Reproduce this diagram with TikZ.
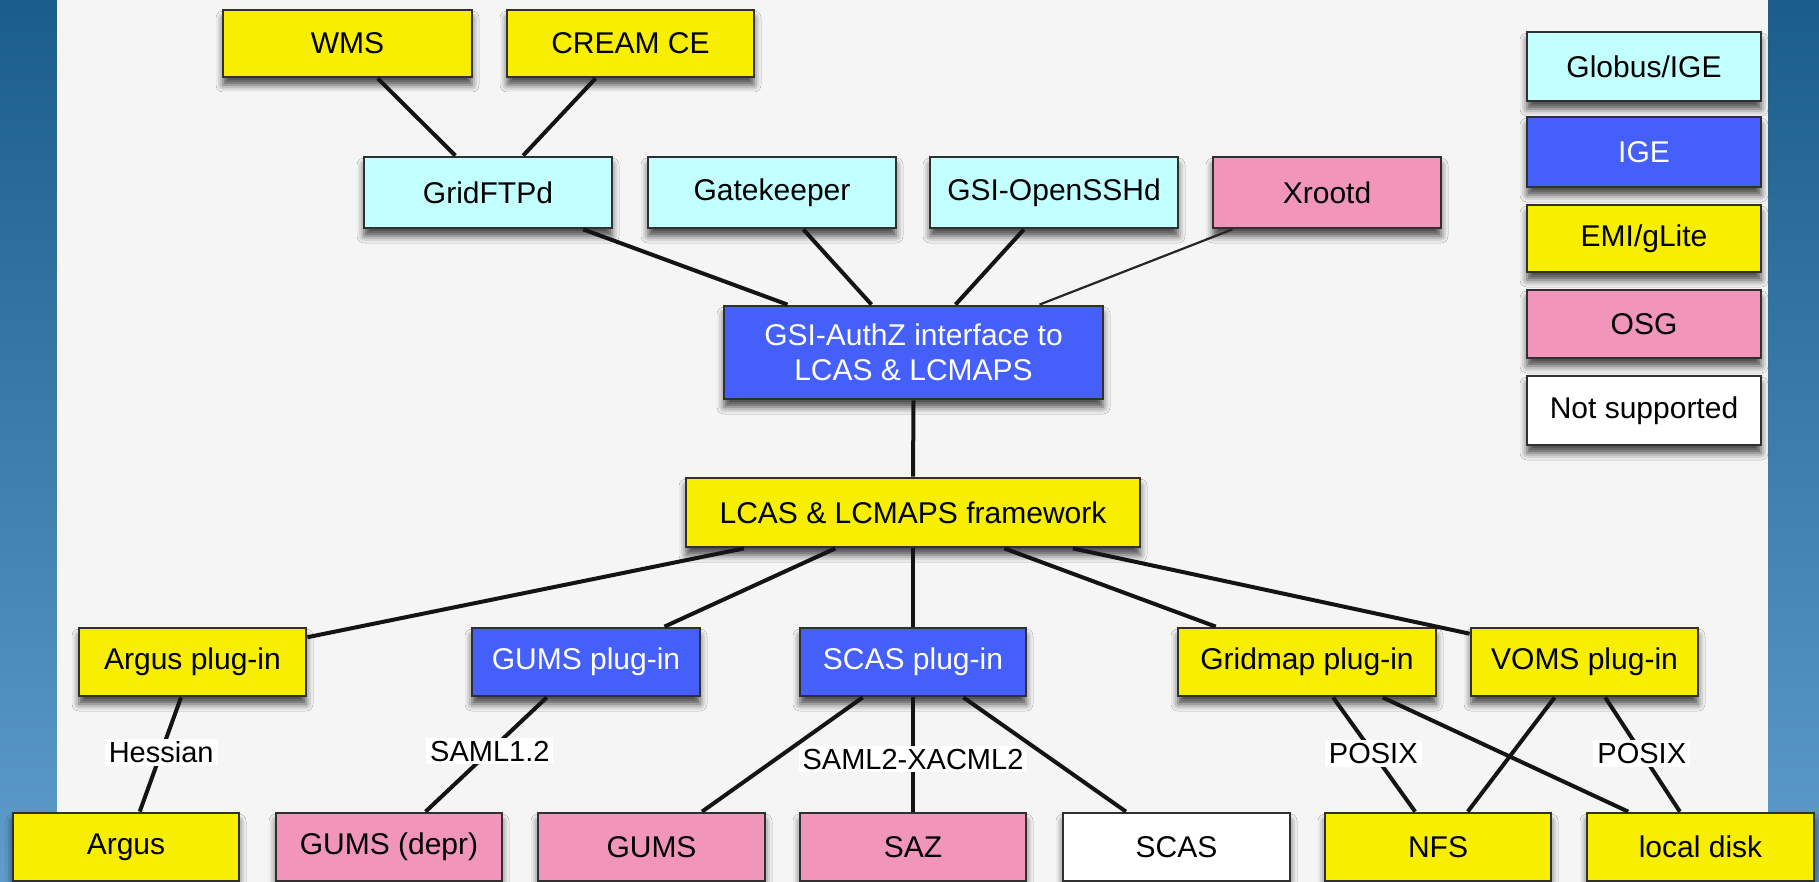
\documentclass[tikz,border=0pt]{standalone}
\usepackage{fontspec}
\setmainfont{Liberation Sans}
\usetikzlibrary{calc,shadows.blur}
\definecolor{bgblueA}{HTML}{1A5C8A}
\definecolor{bgblueB}{HTML}{5E9DCB}
\definecolor{panel}{HTML}{F5F5F5}
\definecolor{cyanbox}{HTML}{C2FFFF}
\definecolor{bluebox}{HTML}{4560FA}
\definecolor{yellowbox}{HTML}{F7EE00}
\definecolor{pinkbox}{HTML}{F195BB}
\definecolor{edgecol}{HTML}{303030}
\begin{document}
\begin{tikzpicture}[x=1pt,y=-1pt,
  box/.style={draw=edgecol,line width=2.8pt,inner sep=0pt,minimum height=68pt,
    font=\fontsize{30}{35}\selectfont,align=center,
    blur shadow={shadow xshift=0pt,shadow yshift=-8pt,shadow blur radius=7pt,shadow opacity=70}},
  cy/.style={box,fill=cyanbox},
  bl/.style={box,fill=bluebox,text=white},
  ye/.style={box,fill=yellowbox},
  pk/.style={box,fill=pinkbox},
  wh/.style={box,fill=white},
  link/.style={draw=black!92,line width=4pt},
  thinlink/.style={draw=black!85,line width=2.2pt},
  elabel/.style={fill=white,inner xsep=4pt,inner ysep=3pt,font=\fontsize{29}{33}\selectfont}]
\useasboundingbox (0,0) rectangle (1819,882);
\shade[top color=bgblueA,bottom color=bgblueB] (0,0) rectangle (1819,882);
\fill[panel] (57,0) rectangle (1768,882);

% top
\node[ye,minimum width=249pt,minimum height=67pt] (wms) at (347.5,43.5) {WMS};
\node[ye,minimum width=247pt,minimum height=67pt] (cream) at (630.5,43.5) {CREAM CE};
% second row
\node[cy,minimum width=248pt,minimum height=71pt] (gridftp) at (488,192.5) {GridFTPd};
\node[cy,minimum width=248pt,minimum height=71pt] (gatek) at (772,192.5) {Gatekeeper};
\node[cy,minimum width=248pt,minimum height=71pt] (gsissh) at (1054,192.5) {GSI-OpenSSHd};
\node[pk,minimum width=228pt,minimum height=71pt] (xrootd) at (1327,192.5) {Xrootd};
% middle
\node[bl,minimum width=379pt,minimum height=93pt] (authz) at (913.5,352.5) {GSI-AuthZ interface to\\LCAS \& LCMAPS};
\node[ye,minimum width=454pt,minimum height=69pt] (lcas) at (913,512.5) {LCAS \& LCMAPS framework};
% plug-ins
\node[ye,minimum width=227pt] (argusp) at (192.5,662) {Argus plug-in};
\node[bl,minimum width=228pt] (gumsp) at (586,662) {GUMS plug-in};
\node[bl,minimum width=226pt] (scasp) at (913,662) {SCAS plug-in};
\node[ye,minimum width=258pt] (gridmapp) at (1307,662) {Gridmap plug-in};
\node[ye,minimum width=227pt] (vomsp) at (1584.5,662) {VOMS plug-in};
% bottom
\node[ye,minimum width=226pt] (argus) at (126,847) {Argus};
\node[pk,minimum width=226pt] (gumsdepr) at (389,847) {GUMS (depr)};
\node[pk,minimum width=227pt] (gums) at (651.5,847) {GUMS};
\node[pk,minimum width=226pt] (saz) at (913,847) {SAZ};
\node[wh,minimum width=227pt] (scas) at (1176.5,847) {SCAS};
\node[ye,minimum width=226pt] (nfs) at (1438,847) {NFS};
\node[ye,minimum width=227pt] (localdisk) at (1700.5,847) {local disk};
% legend
\node[cy,minimum width=234pt,minimum height=69pt] (lgglobus) at (1644,66.5) {Globus/IGE};
\node[bl,minimum width=234pt,minimum height=70pt] (lgige) at (1644,152) {IGE};
\node[ye,minimum width=234pt,minimum height=67pt] (lgemi) at (1644,238.5) {EMI/gLite};
\node[pk,minimum width=234pt,minimum height=68pt] (lgosg) at (1644,324) {OSG};
\node[wh,minimum width=234pt,minimum height=69pt] (lgnot) at (1644,410.5) {Not supported};

% connectors
\draw[link] ($(wms.south west)!0.62!(wms.south east)$) -- ($(gridftp.north west)!0.37!(gridftp.north east)$);
\draw[link] ($(cream.south west)!0.36!(cream.south east)$) -- ($(gridftp.north west)!0.64!(gridftp.north east)$);
\draw[link] ($(gridftp.south west)!0.88!(gridftp.south east)$) -- ($(authz.north west)!0.17!(authz.north east)$);
\draw[link] ($(gatek.south west)!0.625!(gatek.south east)$) -- ($(authz.north west)!0.39!(authz.north east)$);
\draw[link] ($(gsissh.south west)!0.38!(gsissh.south east)$) -- ($(authz.north west)!0.61!(authz.north east)$);
\draw[thinlink] ($(xrootd.south west)!0.09!(xrootd.south east)$) -- ($(authz.north west)!0.83!(authz.north east)$);
\draw[link] (authz.south) -- (lcas.north);
\draw[link] ($(lcas.south west)!0.13!(lcas.south east)$) -- ($(argusp.north east)!0.15!(argusp.south east)$);
\draw[link] ($(lcas.south west)!0.33!(lcas.south east)$) -- ($(gumsp.north west)!0.84!(gumsp.north east)$);
\draw[link] (lcas.south) -- (scasp.north);
\draw[link] ($(lcas.south west)!0.70!(lcas.south east)$) -- ($(gridmapp.north west)!0.15!(gridmapp.north east)$);
\draw[link] ($(lcas.south west)!0.85!(lcas.south east)$) -- ($(vomsp.north west)!0.1!(vomsp.south west)$);
\draw[link] ($(argusp.south west)!0.45!(argusp.south east)$) -- node[elabel,pos=0.48] (lhess) {Hessian} ($(argus.north west)!0.56!(argus.north east)$);
\draw[link] ($(gumsp.south west)!0.33!(gumsp.south east)$) -- node[elabel,pos=0.47] (lsaml1) {SAML1.2} ($(gumsdepr.north west)!0.66!(gumsdepr.north east)$);
\draw[link] ($(scasp.south west)!0.28!(scasp.south east)$) -- ($(gums.north west)!0.72!(gums.north east)$);
\draw[link] ($(scasp.south west)!0.72!(scasp.south east)$) -- ($(scas.north west)!0.28!(scas.north east)$);
\draw[link] (scasp.south) -- node[elabel,pos=0.54] (lsaml2) {SAML2-XACML2} (saz.north);
\draw[link] ($(gridmapp.south west)!0.79!(gridmapp.south east)$) -- ($(localdisk.north west)!0.185!(localdisk.north east)$);
\draw[link] ($(vomsp.south west)!0.37!(vomsp.south east)$) -- ($(nfs.north west)!0.63!(nfs.north east)$);
\draw[link] ($(gridmapp.south west)!0.60!(gridmapp.south east)$) -- node[elabel,pos=0.49] (lposix1) {POSIX} ($(nfs.north west)!0.40!(nfs.north east)$);
\draw[link] ($(vomsp.south west)!0.59!(vomsp.south east)$) -- node[elabel,pos=0.49] (lposix2) {POSIX} ($(localdisk.north west)!0.41!(localdisk.north east)$);
\end{tikzpicture}
\end{document}
